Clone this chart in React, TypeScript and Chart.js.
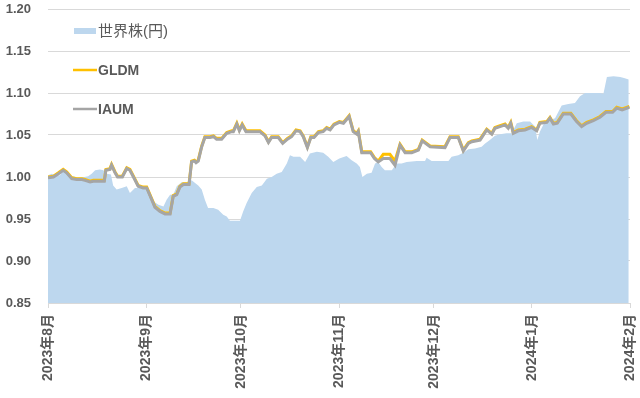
import React, { useEffect, useRef } from "react";
import { Chart, registerables } from "chart.js";

Chart.register(...registerables);

// x values are days since 2023-08-01
const monthDays = [0, 31, 61, 92, 122, 153, 184];
const monthLabels = ["2023年8月", "2023年9月", "2023年10月", "2023年11月", "2023年12月", "2024年1月", "2024年2月"];

const worldDays = [
  0, 1.2, 2.5, 3.8, 4.8, 6.4, 8, 9.6, 11.5, 12.7, 13.8, 14.9, 16.4, 17.5, 18.6, 19.9, 20.6, 21.7, 23.3, 24.9,
  25.9, 27.5, 29.1, 30.7, 31.7, 33.3, 34.9, 36.5, 37.5, 38.6, 39.6, 40.7, 42.3, 43.9, 45.4, 47.5, 48.6, 49.6, 50.6, 52.3,
  53.8, 55.4, 56.5, 57.5, 60.7, 61.7, 62.8, 64.4, 66, 67.6, 69.2, 70.7, 72.3, 73.9, 75.5, 76.5, 77.6, 79.7, 81.3, 82.8,
  85, 87, 88.6, 90.2, 92.1, 94.4, 96, 97.6, 98.6, 99.4, 100.8, 102.3, 103.4, 104.4, 105.5, 106.5, 108.7, 110.2, 111.8, 113.4,
  116.6, 119.2, 119.7, 121.3, 126.6, 127.6, 129.7, 131.3, 132.9, 135, 137.1, 138.2, 139.7, 141.3, 142.9, 145, 146.6, 148.2, 150.3, 152.4,
  154, 154.7, 155.5, 157.1, 158.7, 160.3, 162.4, 164.5, 166.6, 168.2, 169.8, 172.4, 174.5, 175.6, 176.7, 178.8, 180.9, 182.1, 183.6,
];
const worldValues = [
  1.002, 1.004, 1.002, 1.002, 1.008, 1.002, 1.001, 0.999, 1.0, 1.001, 1.004, 1.008, 1.009, 1.008, 1.004, 1.003, 0.99, 0.985, 0.987, 0.989,
  0.981, 0.987, 0.987, 0.988, 0.983, 0.971, 0.967, 0.965, 0.973, 0.979, 0.979, 0.989, 0.994, 0.994, 0.996, 0.99, 0.985, 0.973, 0.963, 0.963,
  0.961, 0.955, 0.953, 0.948, 0.948, 0.959, 0.969, 0.981, 0.988, 0.99, 0.998, 1.0, 1.004, 1.006, 1.016, 1.026, 1.024, 1.024, 1.018, 1.028,
  1.03, 1.029, 1.024, 1.018, 1.022, 1.025, 1.02, 1.016, 1.012, 1.0, 1.004, 1.005, 1.016, 1.018, 1.012, 1.008, 1.008, 1.016, 1.016, 1.018,
  1.019, 1.019, 1.023, 1.019, 1.019, 1.024, 1.026, 1.029, 1.033, 1.034, 1.036, 1.04, 1.044, 1.049, 1.051, 1.052, 1.052, 1.064, 1.066, 1.066,
  1.06, 1.044, 1.054, 1.066, 1.068, 1.07, 1.085, 1.087, 1.088, 1.096, 1.1, 1.1, 1.1, 1.099, 1.119, 1.12, 1.119, 1.118, 1.116,
];

const goldDays = [
  0, 1.7, 3.3, 4.8, 5.9, 7.5, 9.1, 10.7, 11.7, 13.3, 14.3, 15.9, 17.8, 18.3, 19.6, 20.1, 21.2, 22, 23.5, 24.9,
  25.9, 27.3, 28.5, 30.1, 31.2, 32.8, 33.8, 35.4, 37, 38.6, 39.6, 40.7, 41.7, 42.8, 44.6, 45.4, 46.3, 46.8, 47.5, 48.6,
  49.6, 51.2, 52.3, 53.3, 54.9, 56.5, 58.1, 58.6, 59.7, 60.5, 61.4, 62.6, 64.4, 67, 68.6, 69.7, 70.7, 72.8, 74.2, 75.7,
  77, 78.4, 79.7, 80.7, 82, 83.1, 84.1, 85.5, 87, 88.1, 89.2, 90.4, 92.1, 93.4, 95.2, 96.5, 97.6, 98.1, 99.2, 100.8,
  102, 103.2, 104.4, 106, 108.1, 109.7, 111.3, 112.9, 115, 117.1, 118.3, 120.8, 125.5, 127.1, 129.7, 131.3, 132.9, 134, 136.6, 138.7,
  140.3, 141.3, 142.9, 144.5, 145.5, 146.3, 147.1, 148.7, 150.8, 152.9, 154.5, 155.5, 157.7, 158.7, 159.8, 161, 162.9, 165.3, 167.1, 168.7,
  170.3, 172.4, 174.5, 176.4, 178.5, 179.8, 181.5, 183.8,
];
const gldmValues = [
  1.0, 1.001, 1.005, 1.009, 1.006, 0.999, 0.998, 0.998, 0.997, 0.995, 0.996, 0.996, 0.996, 1.009, 1.01, 1.015, 1.006, 1.001, 1.001, 1.011,
  1.009, 0.999, 0.99, 0.988, 0.988, 0.974, 0.965, 0.96, 0.957, 0.957, 0.978, 0.98, 0.989, 0.992, 0.992, 1.019, 1.02, 1.018, 1.02, 1.037,
  1.048, 1.048, 1.049, 1.046, 1.046, 1.053, 1.055, 1.055, 1.064, 1.056, 1.063, 1.055, 1.055, 1.055, 1.05, 1.042, 1.048, 1.048, 1.041, 1.046,
  1.049, 1.056, 1.055, 1.049, 1.036, 1.048, 1.048, 1.054, 1.055, 1.059, 1.057, 1.063, 1.066, 1.065, 1.073, 1.055, 1.052, 1.055, 1.03, 1.03,
  1.03, 1.023, 1.019, 1.027, 1.027, 1.019, 1.039, 1.03, 1.03, 1.033, 1.044, 1.037, 1.036, 1.048, 1.048, 1.032, 1.041, 1.043, 1.045, 1.057,
  1.052, 1.059, 1.061, 1.063, 1.059, 1.065, 1.053, 1.056, 1.057, 1.06, 1.056, 1.065, 1.066, 1.071, 1.064, 1.065, 1.076, 1.076, 1.067, 1.061,
  1.065, 1.068, 1.072, 1.078, 1.078, 1.083, 1.081, 1.084,
];
const iaumValues = [
  0.999, 1.0, 1.004, 1.008, 1.005, 0.998, 0.997, 0.997, 0.996, 0.994, 0.995, 0.995, 0.995, 1.008, 1.009, 1.014, 1.005, 1.0, 1.0, 1.01,
  1.008, 0.998, 0.989, 0.987, 0.987, 0.973, 0.964, 0.959, 0.956, 0.956, 0.977, 0.979, 0.988, 0.991, 0.991, 1.018, 1.019, 1.017, 1.019, 1.036,
  1.047, 1.047, 1.048, 1.045, 1.045, 1.052, 1.054, 1.054, 1.063, 1.055, 1.062, 1.054, 1.054, 1.054, 1.049, 1.041, 1.047, 1.047, 1.04, 1.045,
  1.048, 1.055, 1.054, 1.048, 1.035, 1.047, 1.047, 1.053, 1.054, 1.058, 1.056, 1.062, 1.065, 1.064, 1.072, 1.054, 1.051, 1.054, 1.029, 1.029,
  1.029, 1.022, 1.018, 1.022, 1.022, 1.014, 1.038, 1.029, 1.029, 1.032, 1.043, 1.036, 1.035, 1.047, 1.047, 1.031, 1.04, 1.042, 1.044, 1.056,
  1.051, 1.058, 1.06, 1.062, 1.058, 1.064, 1.052, 1.055, 1.056, 1.059, 1.055, 1.064, 1.065, 1.07, 1.063, 1.064, 1.075, 1.075, 1.066, 1.06,
  1.064, 1.067, 1.071, 1.077, 1.077, 1.082, 1.08, 1.083,
];

const yMin = 0.85;
const yMax = 1.2;
const yStep = 0.05;

const TEXT = "#595959";
const FONT = '"Liberation Sans", "Noto Sans CJK JP", sans-serif';

const legendPlugin = {
  id: "insideLegend",
  afterDraw(chart: any) {
    const ctx = chart.ctx;
    const area = chart.chartArea;
    const x0 = area.left + 25;
    const rows = [area.top + 22, area.top + 61, area.top + 100];
    ctx.save();
    chart.data.datasets.forEach((ds: any, i: number) => {
      const y = rows[i];
      if (ds.fill) {
        ctx.fillStyle = ds.backgroundColor;
        ctx.fillRect(x0 + 1, y - 3, 22, 6);
      } else {
        ctx.strokeStyle = ds.borderColor;
        ctx.lineWidth = 2.5;
        ctx.beginPath();
        ctx.moveTo(x0, y);
        ctx.lineTo(x0 + 24, y);
        ctx.stroke();
      }
      ctx.fillStyle = TEXT;
      ctx.textBaseline = "middle";
      ctx.textAlign = "left";
      ctx.font = (ds.fill ? "normal 15px " : "bold 14px ") + FONT;
      ctx.fillText(ds.label, x0 + 25, y + 1);
    });
    ctx.restore();
  },
};

export default function App() {
  const ref = useRef<HTMLCanvasElement | null>(null);
  useEffect(() => {
    if (!ref.current) return;
    const chart = new Chart(ref.current, {
      type: "line",
      data: {
        datasets: [
          {
            label: "世界株(円)",
            data: worldDays.map((d, i) => ({ x: d, y: worldValues[i] })),
            backgroundColor: "#bdd7ee",
            borderColor: "#bdd7ee",
            borderWidth: 0,
            fill: "start",
            pointRadius: 0,
            tension: 0,
            order: 3,
          },
          {
            label: "GLDM",
            data: goldDays.map((d, i) => ({ x: d, y: gldmValues[i] })),
            borderColor: "#ffc000",
            backgroundColor: "#ffc000",
            borderWidth: 3,
            fill: false,
            pointRadius: 0,
            tension: 0,
            order: 2,
          },
          {
            label: "IAUM",
            data: goldDays.map((d, i) => ({ x: d, y: iaumValues[i] })),
            borderColor: "#a5a5a5",
            backgroundColor: "#a5a5a5",
            borderWidth: 3,
            fill: false,
            pointRadius: 0,
            tension: 0,
            order: 1,
          },
        ],
      },
      options: {
        responsive: false,
        animation: false,
        devicePixelRatio: 1,
        layout: { padding: { top: 9, right: 10, left: 0, bottom: 0 } },
        plugins: { legend: { display: false }, tooltip: { enabled: false } },
        scales: {
          x: {
            type: "linear",
            min: monthDays[0],
            max: monthDays[monthDays.length - 1],
            afterBuildTicks(scale: any) {
              scale.ticks = monthDays.map((v) => ({ value: v }));
            },
            afterFit(scale: any) {
              scale.height = 95;
              scale.paddingLeft = 0;
              scale.paddingRight = 0;
            },
            ticks: {
              autoSkip: false,
              minRotation: 90,
              maxRotation: 90,
              padding: 6,
              color: TEXT,
              font: { family: FONT, size: 14, weight: "bold" },
              callback: (v: any) => {
                const i = monthDays.indexOf(Number(v));
                return i >= 0 ? monthLabels[i] : "";
              },
            },
            grid: {
              drawOnChartArea: false,
              drawTicks: true,
              tickLength: 5,
              color: "#d9d9d9",
            },
            border: { display: true, color: "#d9d9d9" },
          },
          y: {
            min: yMin,
            max: yMax,
            afterFit(scale: any) {
              scale.width = 48;
              scale.paddingTop = 0;
              scale.paddingBottom = 0;
            },
            ticks: {
              stepSize: yStep,
              padding: 17,
              color: TEXT,
              font: { family: FONT, size: 13, weight: "bold" },
              callback: (v: any) => Number(v).toFixed(2),
            },
            grid: { color: "#d9d9d9", drawTicks: false, lineWidth: 1 },
            border: { display: false },
          },
        },
      },
      plugins: [legendPlugin],
    });
    return () => chart.destroy();
  }, []);
  return (
    <div style={{ position: "fixed", left: 0, top: 0, width: 640, height: 398, background: "#fff" }}>
      <canvas ref={ref} width={640} height={398} style={{ display: "block" }} />
    </div>
  );
}
